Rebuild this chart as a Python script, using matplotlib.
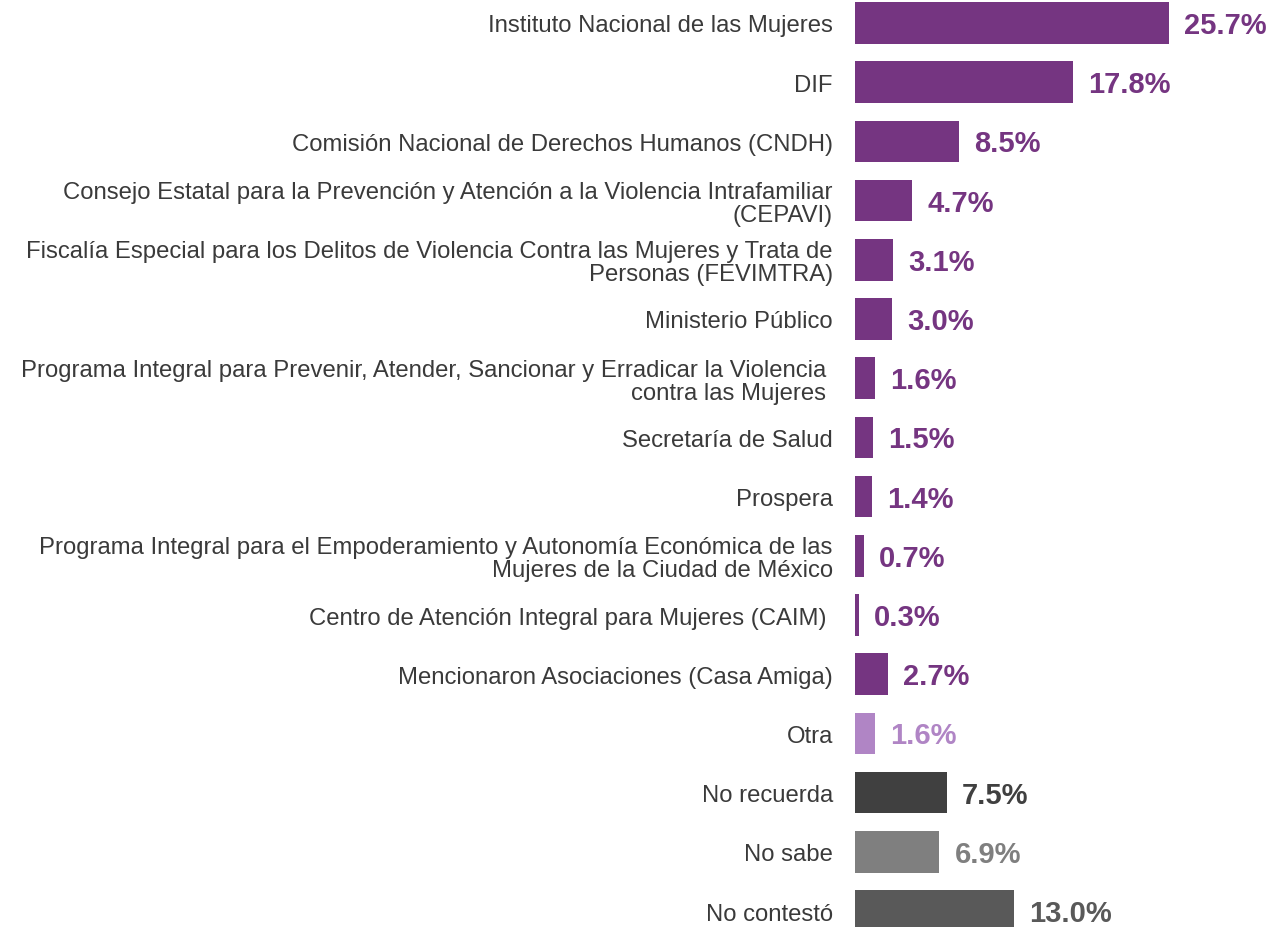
import matplotlib.pyplot as plt

plt.rcParams['font.family'] = ['Liberation Sans', 'DejaVu Sans']

categories = [
    "Instituto Nacional de las Mujeres",
    "DIF",
    "Comisión Nacional de Derechos Humanos (CNDH)",
    "Consejo Estatal para la Prevención y Atención a la Violencia Intrafamiliar\n(CEPAVI)",
    "Fiscalía Especial para los Delitos de Violencia Contra las Mujeres y Trata de\nPersonas (FEVIMTRA)",
    "Ministerio Público",
    "Programa Integral para Prevenir, Atender, Sancionar y Erradicar la Violencia \ncontra las Mujeres ",
    "Secretaría de Salud",
    "Prospera",
    "Programa Integral para el Empoderamiento y Autonomía Económica de las\nMujeres de la Ciudad de México",
    "Centro de Atención Integral para Mujeres (CAIM) ",
    "Mencionaron Asociaciones (Casa Amiga)",
    "Otra",
    "No recuerda",
    "No sabe",
    "No contestó",
]
values = [25.7, 17.8, 8.5, 4.7, 3.1, 3.0, 1.6, 1.5, 1.4, 0.7, 0.3, 2.7, 1.6, 7.5, 6.9, 13.0]

purple = '#753581'
colors = [purple] * 12 + ['#B085C5', '#404040', '#7F7F7F', '#595959']

fig = plt.figure(figsize=(12.71, 9.28), dpi=100)
ax = fig.add_axes([855 / 1271, 0, 416 / 1271, 1])

pos = list(range(len(values)))
ax.barh(pos, values, height=0.7, color=colors)
ax.set_xlim(0, 34.04)
ax.set_ylim(15.27, -0.405)

# value labels next to each bar
for p, v, c in zip(pos, values, colors):
    ax.annotate(f"{v:.1f}%", (v, p), xytext=(11, -1.5), textcoords='offset points',
                ha='left', va='center', fontsize=21, fontweight='bold', color=c)

ax.set_yticks(pos)
ax.set_yticklabels(categories, fontsize=17.2, color='#3a3a3a', linespacing=1.06)
ax.tick_params(axis='y', length=0, pad=16)
ax.set_xticks([])
for s in ax.spines.values():
    s.set_visible(False)
ax.patch.set_alpha(0)

plt.savefig('out.png', dpi=100, facecolor='white')
